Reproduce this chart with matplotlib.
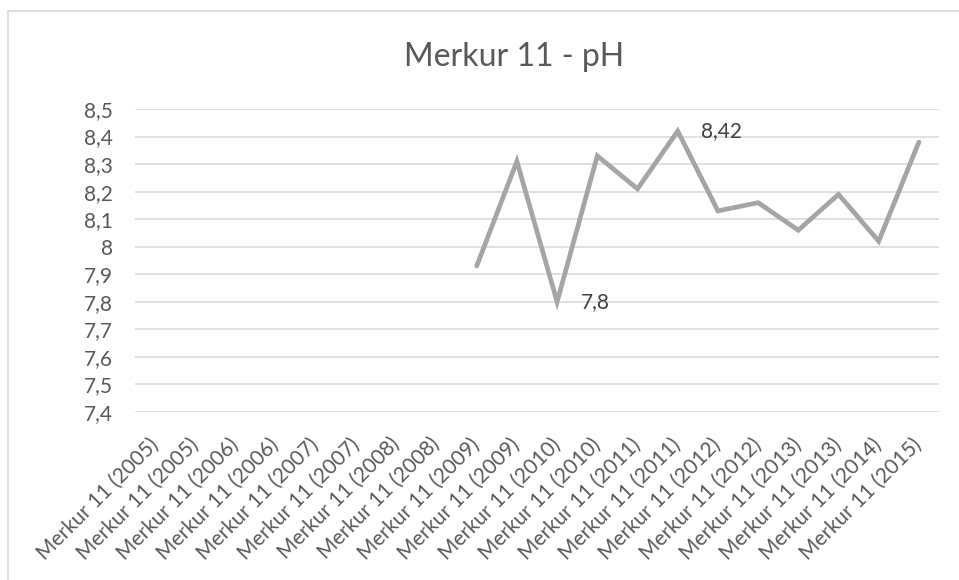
import numpy as np
import matplotlib.pyplot as plt
from matplotlib.patches import Rectangle

plt.rcParams['font.family'] = ['Lato', 'DejaVu Sans']

years = ['2005', '2005', '2006', '2006', '2007', '2007', '2008', '2008', '2009', '2009',
         '2010', '2010', '2011', '2011', '2012', '2012', '2013', '2013', '2014', '2015']
labels = ['Merkur 11 (%s)' % y for y in years]
ph = [np.nan] * 8 + [7.93, 8.31, 7.80, 8.33, 8.21, 8.42, 8.13, 8.16, 8.06, 8.19, 8.02, 8.38]
yticks = [7.4, 7.5, 7.6, 7.7, 7.8, 7.9, 8.0, 8.1, 8.2, 8.3, 8.4, 8.5]
ytick_labels = ['7,4', '7,5', '7,6', '7,7', '7,8', '7,9', '8', '8,1', '8,2', '8,3', '8,4', '8,5']
shown = {10: '7,8', 13: '8,42'}

W, H = 959, 580
fig = plt.figure(figsize=(W / 100, H / 100), dpi=100)
fig.patches.append(Rectangle((8 / W, -0.1), 1.2, 1 - 11 / H + 0.1, transform=fig.transFigure,
                             fill=False, edgecolor='#D9D9D9', linewidth=1.2))

ax = fig.add_axes([135 / W, 1 - 412 / H, (939 - 135) / W, (412 - 109) / H])
x = np.arange(len(labels))
ax.plot(x, ph, color='#A5A5A5', linewidth=3.4, solid_capstyle='round', solid_joinstyle='miter', zorder=3)

for i, txt in shown.items():
    ax.annotate(txt, (x[i], ph[i]), xytext=(17, 0), textcoords='offset points',
                ha='left', va='center', fontsize=15, color='#404040')

ax.set_xlim(-0.5, len(labels) - 0.5)
ax.set_ylim(7.4, 8.5)
ax.set_yticks(yticks)
ax.set_yticklabels(ytick_labels)
ax.set_xticks(x)
ax.set_xticklabels(labels, rotation=45, ha='right', va='center', rotation_mode='anchor', fontsize=15)
ax.tick_params(axis='y', length=0, labelsize=15, labelcolor='#595959', pad=16)
ax.tick_params(axis='x', length=0, labelcolor='#595959', pad=21)
ax.grid(axis='y', color='#D9D9D9', linewidth=1.1)
ax.set_axisbelow(True)
for s in ax.spines.values():
    s.set_visible(False)

fig.text(514 / W, 1 - 57 / H, 'Merkur 11 - pH', ha='center', va='center', fontsize=23, color='#595959')

fig.savefig('out.png', dpi=100)
